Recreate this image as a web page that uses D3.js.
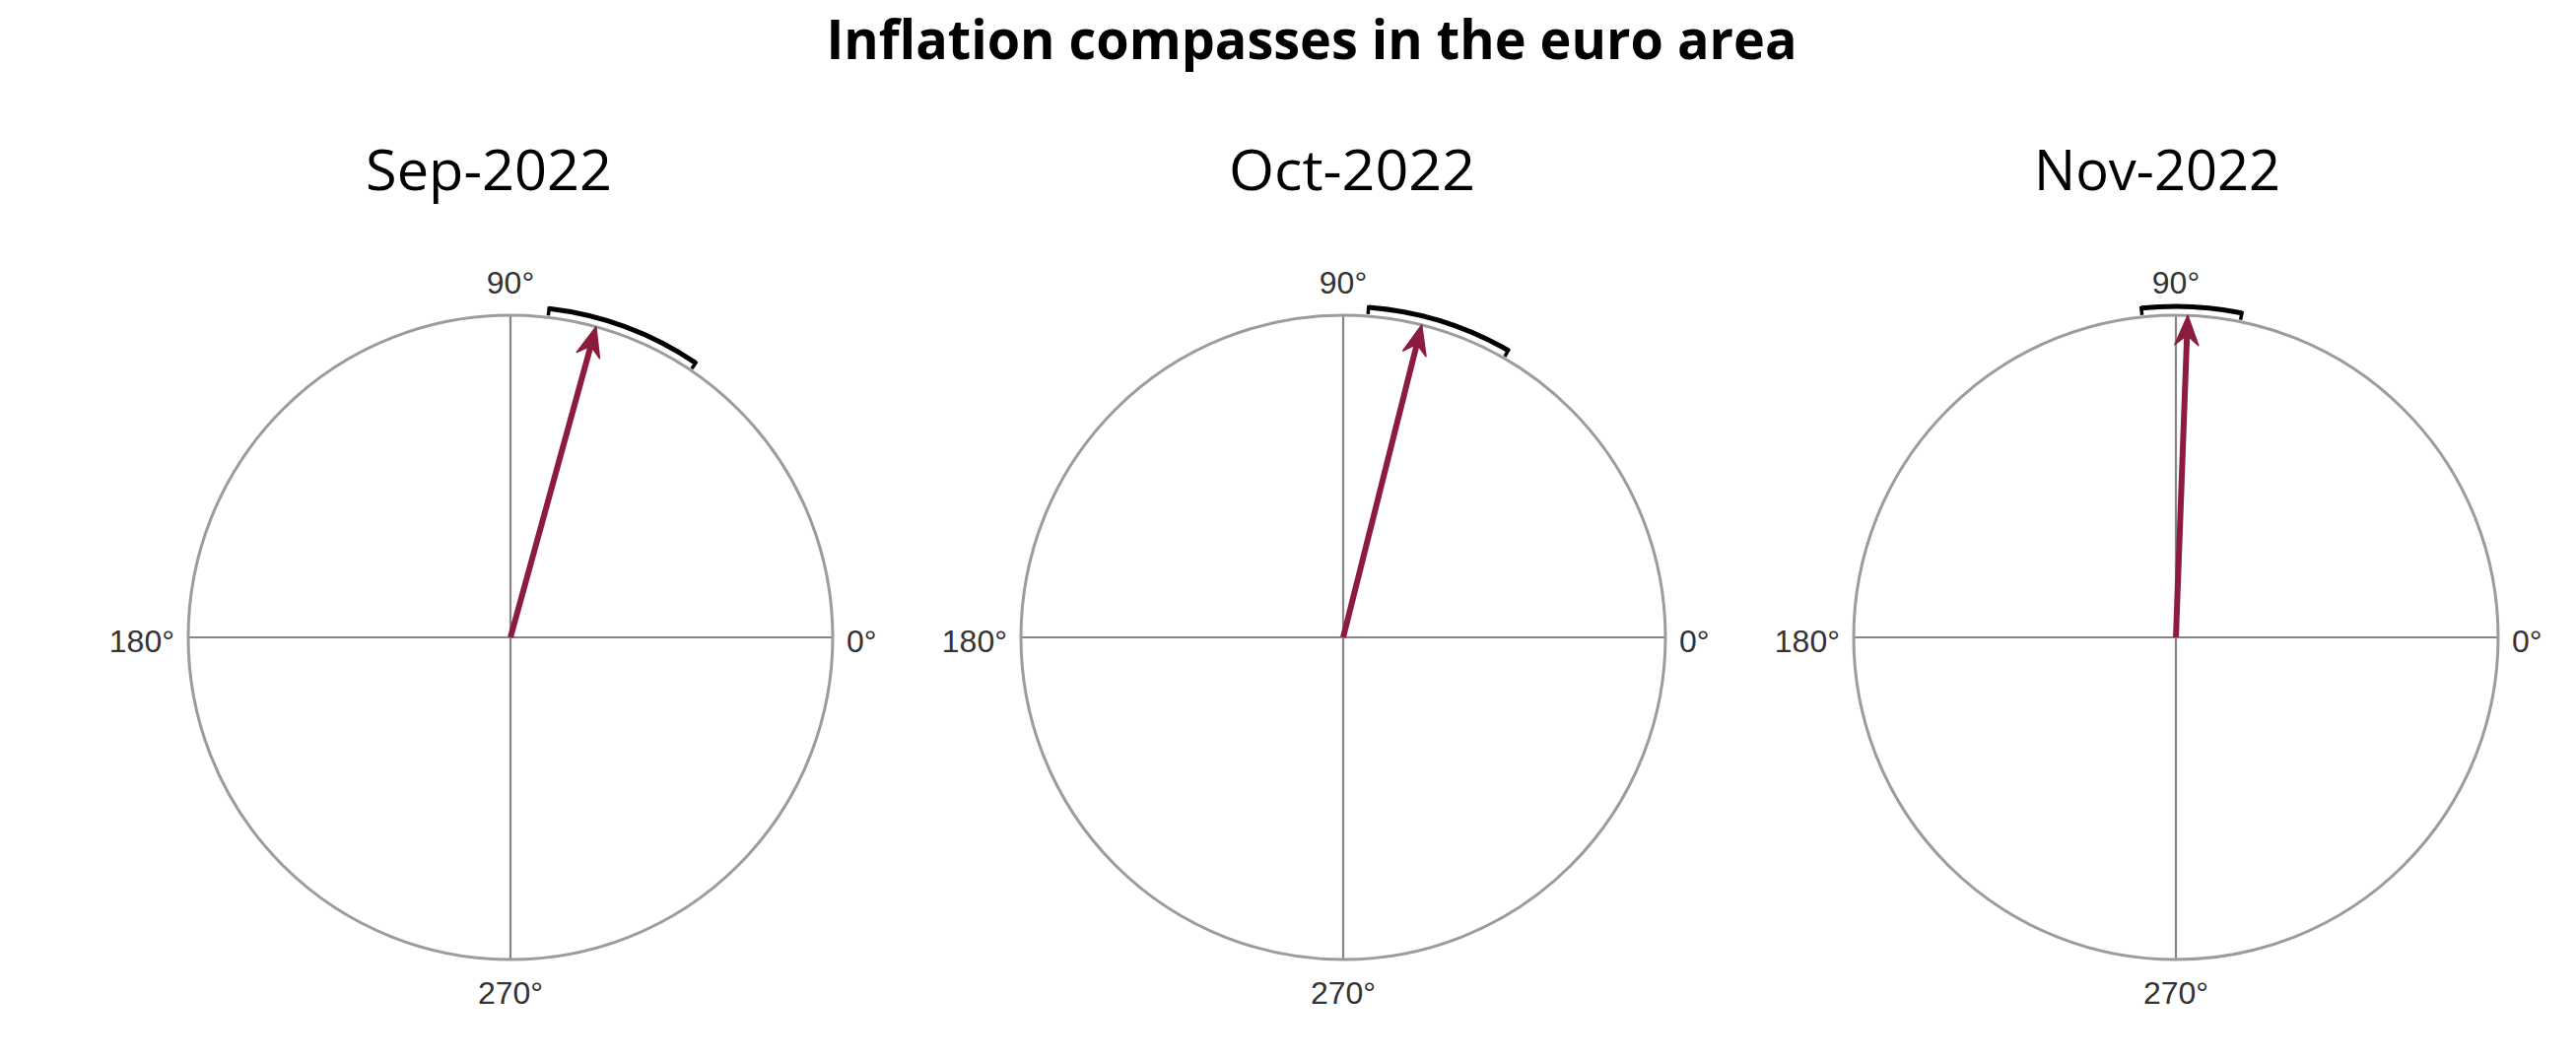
<!DOCTYPE html>
<html>
<head>
<meta charset="utf-8">
<script src="https://cdn.jsdelivr.net/npm/d3@7"></script>
<style>
  html, body { margin: 0; padding: 0; background: #ffffff; }
  svg { display: block; }
</style>
</head>
<body>
<svg id="chart" width="2614" height="1075"></svg>
<script>
// ---- data ----
const chartTitle = "Inflation compasses in the euro area";
const months = ["Sep-2022", "Oct-2022", "Nov-2022"];
const compassAngle = [74.6, 75.9, 87.9];      // degrees, counter-clockwise from 0° (east)
const bandLow = [56.0, 60.1, 78.5];           // lower bound of uncertainty arc (deg)
const bandHigh = [83.3, 85.6, 96.0];          // upper bound of uncertainty arc (deg)
const compassMagnitude = [1, 1, 1];           // arrow length relative to the unit circle
const axisTicks = [0, 90, 180, 270];
const tickLabels = ["0°", "90°", "180°", "270°"];

// ---- layout ----
const W = 2614, H = 1075;
const svg = d3.select("#chart");
svg.append("rect").attr("width", W).attr("height", H).attr("fill", "#fff");

const R = 327, CY = 647;
const panelX = d3.scalePoint().domain(months).range([518, 2208]);
const titleX = d3.scaleOrdinal().domain(months).range([496, 1372, 2189]);
const ang = d3.scaleLinear().domain([0, 360]).range([0, 2 * Math.PI]);
const rad = d3.scaleLinear().domain([0, 1]).range([0, R]);

svg.append("text")
  .attr("x", 1331).attr("y", 60)
  .attr("text-anchor", "middle")
  .attr("font-family", "'Open Sans', sans-serif")
  .attr("font-weight", 700)
  .attr("font-size", 56)
  .attr("textLength", 985)
  .attr("lengthAdjust", "spacingAndGlyphs")
  .attr("fill", "#000")
  .text(chartTitle);

const arrowColor = "#8c1c3e";

months.forEach((m, i) => {
  const cx = panelX(m);
  const g = svg.append("g").attr("transform", `translate(${cx},${CY})`);
  const px = (deg, r) => r * Math.cos(ang(deg));
  const py = (deg, r) => -r * Math.sin(ang(deg));

  // month title
  svg.append("text")
    .attr("x", titleX(m)).attr("y", 193)
    .attr("text-anchor", "middle")
    .attr("font-family", "'Open Sans', sans-serif")
    .attr("font-size", 57)
    .attr("textLength", 250)
    .attr("lengthAdjust", "spacingAndGlyphs")
    .attr("fill", "#000")
    .text(m);

  // cross lines
  g.selectAll("line.axis")
    .data(axisTicks)
    .join("line")
    .attr("class", "axis")
    .attr("x1", 0).attr("y1", 0)
    .attr("x2", d => px(d, rad(1)))
    .attr("y2", d => py(d, rad(1)))
    .attr("stroke", "#858585")
    .attr("stroke-width", 2.2);

  // outer circle
  g.append("circle")
    .attr("r", rad(1))
    .attr("fill", "none")
    .attr("stroke", "#9c9c9c")
    .attr("stroke-width", 3);

  // tick labels
  g.selectAll("text.tick")
    .data(axisTicks)
    .join("text")
    .attr("class", "tick")
    .attr("font-family", "'Liberation Sans', Arial, sans-serif")
    .attr("font-size", 32)
    .attr("fill", "#333")
    .attr("text-anchor", d => d === 0 ? "start" : d === 180 ? "end" : "middle")
    .attr("x", d => d === 0 ? rad(1) + 14 : d === 180 ? -rad(1) - 14 : 0)
    .attr("y", d => d === 90 ? -rad(1) - 22 : d === 270 ? rad(1) + 45 : 15)
    .text((d, j) => tickLabels[j]);

  // uncertainty arc (just outside circle)
  const Ra = rad(1) + 9;
  const p = d3.path();
  p.arc(0, 0, Ra, -ang(bandHigh[i]), -ang(bandLow[i]), false);
  g.append("path")
    .attr("d", p.toString())
    .attr("fill", "none")
    .attr("stroke", "#000")
    .attr("stroke-width", 5);
  // end caps
  [bandLow[i], bandHigh[i]].forEach(a => {
    g.append("line")
      .attr("x1", px(a, rad(1) + 2)).attr("y1", py(a, rad(1) + 2))
      .attr("x2", px(a, Ra + 2)).attr("y2", py(a, Ra + 2))
      .attr("stroke", "#000")
      .attr("stroke-width", 3.5);
  });

  // arrow
  const a = compassAngle[i];
  const L = rad(compassMagnitude[i]);
  const headLen = 30, headW = 12, notch = 20;
  g.append("line")
    .attr("x1", 0).attr("y1", 0)
    .attr("x2", px(a, L - notch + 2)).attr("y2", py(a, L - notch + 2))
    .attr("stroke", arrowColor)
    .attr("stroke-width", 6);
  const th = ang(a);
  const ux = Math.cos(th), uy = -Math.sin(th);    // direction
  const nx = -uy, ny = ux;                         // normal
  const tipX = ux * L, tipY = uy * L;
  const head = d3.path();
  head.moveTo(tipX, tipY);
  head.lineTo(tipX - ux * headLen + nx * headW, tipY - uy * headLen + ny * headW);
  head.lineTo(tipX - ux * notch, tipY - uy * notch);
  head.lineTo(tipX - ux * headLen - nx * headW, tipY - uy * headLen - ny * headW);
  head.closePath();
  g.append("path")
    .attr("d", head.toString())
    .attr("fill", arrowColor)
    .attr("stroke", arrowColor)
    .attr("stroke-width", 1.5)
    .attr("stroke-linejoin", "round");
});
</script>
</body>
</html>
